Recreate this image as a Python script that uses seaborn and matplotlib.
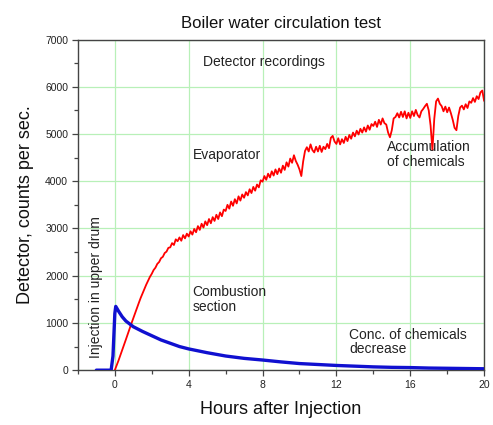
import numpy as np
import pandas as pd
import matplotlib
matplotlib.use("Agg")
import matplotlib.pyplot as plt
from matplotlib.ticker import FixedLocator
import seaborn as sns

# ---------------- data ----------------
evap_hours = np.round(np.arange(0, 20.001, 0.1), 1)
evap_counts = [
    0, 100, 205, 315, 425, 540, 650, 765, 880, 990,
    1100, 1215, 1320, 1425, 1530, 1625, 1725, 1810, 1895, 1975,
    2040, 2120, 2170, 2250, 2290, 2370, 2400, 2480, 2510, 2590,
    2600, 2690, 2650, 2770, 2730, 2810, 2740, 2860, 2790, 2890,
    2830, 2940, 2870, 2990, 2920, 3050, 2970, 3100, 3020, 3150,
    3070, 3200, 3110, 3240, 3160, 3290, 3200, 3340, 3260, 3400,
    3370, 3500, 3420, 3570, 3480, 3620, 3530, 3680, 3590, 3720,
    3650, 3770, 3700, 3830, 3750, 3880, 3800, 3930, 3870, 4020,
    3990, 4110, 4030, 4160, 4080, 4210, 4120, 4250, 4150, 4270,
    4180, 4330, 4240, 4400, 4310, 4480, 4390, 4550, 4430, 4350,
    4250, 4110, 4420, 4640, 4720, 4630, 4780, 4660, 4610, 4730,
    4630, 4750, 4620, 4730, 4680, 4790, 4700, 4920, 4960, 4840,
    4790, 4910, 4780, 4890, 4810, 4940, 4850, 4980, 4900, 5030,
    4950, 5070, 4990, 5110, 5030, 5140, 5050, 5180, 5090, 5210,
    5170, 5260, 5150, 5300, 5200, 5330, 5230, 5200, 5030, 4930,
    5080, 5330, 5360, 5440, 5350, 5470, 5360, 5480, 5330, 5450,
    5340, 5480, 5380, 5510, 5400, 5350, 5480, 5530, 5590, 5640,
    5500, 5180, 4660, 5320, 5690, 5750, 5640, 5590, 5480, 5580,
    5460, 5560, 5440, 5300, 5130, 5080, 5380, 5560, 5600, 5520,
    5630, 5550, 5690, 5660, 5760, 5680, 5800, 5740, 5880, 5920,
    5700,
]

comb_hours = [-1.0, -0.2, -0.1, 0.0, 0.05, 0.2, 0.4, 0.6, 0.8, 1.0, 1.5, 2.0,
              2.5, 3.0, 3.5, 4.0, 5.0, 6.0, 7.0, 8.0, 9.0, 10.0, 11.0, 12.0,
              13.0, 14.0, 15.0, 16.0, 17.0, 18.0, 19.0, 20.0]
comb_counts = [0, 0, 300, 1200, 1350, 1250, 1130, 1040, 980, 920, 820, 730,
               640, 570, 500, 450, 370, 300, 250, 215, 175, 140, 120, 100,
               85, 70, 60, 55, 45, 40, 35, 30]

x_major = [0, 4, 8, 12, 16, 20]
x_minor = [-2, 2, 6, 10, 14, 18]
y_major = [0, 1000, 2000, 3000, 4000, 5000, 6000, 7000]
y_minor = [500, 1500, 2500, 3500, 4500, 5500, 6500]

# ---------------- plot ----------------
sns.set_style("white")
plt.rcParams["font.family"] = ["Liberation Sans", "DejaVu Sans"]

fig = plt.figure(figsize=(4.93, 4.25), dpi=100)
ax = fig.add_axes([0.158, 0.129, 0.824, 0.778])

evap_df = pd.DataFrame({"hours": evap_hours, "counts": evap_counts})
comb_df = pd.DataFrame({"hours": comb_hours, "counts": comb_counts})

sns.lineplot(data=evap_df, x="hours", y="counts", ax=ax, color="#ff0000",
             linewidth=1.3, zorder=3)
sns.lineplot(data=comb_df, x="hours", y="counts", ax=ax, color="#1010d0",
             linewidth=2.4, zorder=4)

ax.set_xlim(-2, 20)
ax.set_ylim(0, 7000)
ax.xaxis.set_major_locator(FixedLocator(x_major))
ax.xaxis.set_minor_locator(FixedLocator(x_minor))
ax.yaxis.set_major_locator(FixedLocator(y_major))
ax.yaxis.set_minor_locator(FixedLocator(y_minor))
ax.set_xticklabels([str(v) for v in x_major])
ax.set_yticklabels([str(v) for v in y_major])

ax.grid(True, which="major", color="#b8f0b8", linewidth=0.9, zorder=0)
ax.set_axisbelow(True)
for s in ax.spines.values():
    s.set_color("#444444")
    s.set_linewidth(1.0)

ax.tick_params(axis="both", which="major", direction="out", length=4,
               width=0.9, color="#444444", labelsize=7.5, labelcolor="#222222",
               bottom=True, left=True, pad=3)
ax.tick_params(axis="both", which="minor", direction="out", length=3,
               width=0.9, color="#444444", bottom=True, left=True)

ax.set_xlabel("Hours after Injection", fontsize=13, labelpad=8, color="#111111")
ax.set_ylabel("Detector, counts per sec.", fontsize=13, labelpad=8, color="#111111")
ax.set_title("Boiler water circulation test", fontsize=12, pad=8, color="#111111")

txt = dict(fontsize=10, color="#222222")
ax.text(8.1, 6520, "Detector recordings", ha="center", va="center", **txt)
ax.text(4.2, 4560, "Evaporator", ha="left", va="center", **txt)
ax.text(14.75, 4560, "Accumulation\nof chemicals", ha="left", va="center",
        linespacing=1.1, **txt)
ax.text(4.2, 1500, "Combustion\nsection", ha="left", va="center",
        linespacing=1.1, **txt)
ax.text(12.7, 600, "Conc. of chemicals\ndecrease", ha="left", va="center",
        linespacing=1.0, **txt)
ax.text(-1.0, 260, "Injection in upper drum", rotation=90, ha="center",
        va="bottom", **txt)

fig.savefig("out.png", dpi=100)
